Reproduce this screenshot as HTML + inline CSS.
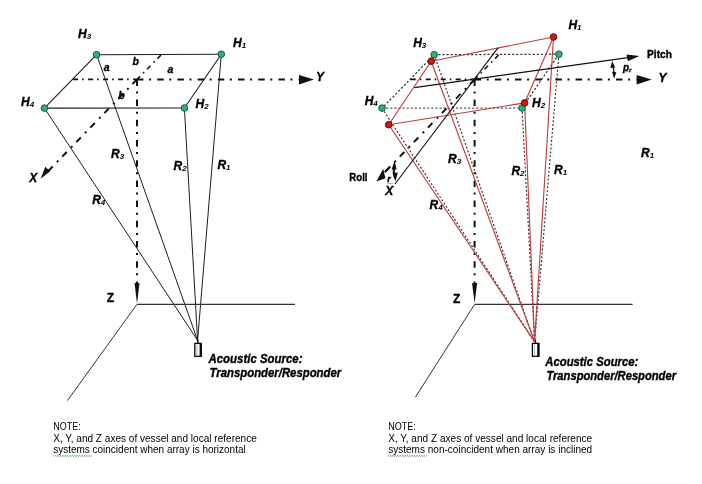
<!DOCTYPE html>
<html><head><meta charset="utf-8"><style>
html,body{margin:0;padding:0;background:#fff;width:702px;height:484px;overflow:hidden}
svg{display:block;will-change:transform}
text{font-family:"Liberation Sans",sans-serif;fill:#000}
.bi,.b{stroke:#000;stroke-width:0.35}
.bi{font-weight:bold;font-style:italic}
.b{font-weight:bold}
.sub{font-weight:bold;stroke-width:0}
.r{font-weight:normal}
</style></head><body>
<svg width="702" height="484" viewBox="0 0 702 484">
<rect width="702" height="484" fill="#fff"/>
<line x1="96.6" y1="54.7" x2="221.3" y2="54.2" stroke="#1e1e1e" stroke-width="1.1" />
<line x1="44.4" y1="108.1" x2="184.4" y2="108.0" stroke="#1e1e1e" stroke-width="1.1" />
<line x1="96.6" y1="54.7" x2="44.4" y2="108.1" stroke="#1e1e1e" stroke-width="1.1" />
<line x1="221.3" y1="54.2" x2="184.4" y2="108.0" stroke="#1e1e1e" stroke-width="1.1" />
<line x1="221.3" y1="54.2" x2="197.6" y2="340.4" stroke="#1e1e1e" stroke-width="1" />
<line x1="184.4" y1="108.0" x2="197.6" y2="340.4" stroke="#1e1e1e" stroke-width="1" />
<line x1="96.6" y1="54.7" x2="197.6" y2="340.4" stroke="#1e1e1e" stroke-width="1" />
<line x1="44.4" y1="108.1" x2="197.6" y2="340.4" stroke="#1e1e1e" stroke-width="1" />
<line x1="73.1" y1="79.4" x2="137.0" y2="79.4" stroke="#111" stroke-width="1.6" stroke-dasharray="5 4 1.6 4.4"/>
<line x1="137.0" y1="79.4" x2="299.0" y2="79.4" stroke="#111" stroke-width="2" stroke-dasharray="6.5 5.6 2 6.1"/>
<polygon points="299.0,75 314.0,79.6 299.0,84.6" fill="#111"/>
<line x1="161.0" y1="55.0" x2="137.0" y2="79.4" stroke="#111" stroke-width="1.6" stroke-dasharray="5 4 1.6 4.4"/>
<line x1="137.0" y1="79.4" x2="48.0" y2="171.3" stroke="#111" stroke-width="2" stroke-dasharray="6.5 5.6 2 6.1"/>
<polygon points="40.7,178.7 45.2,166.7 50.2,171.2" fill="#111"/>
<line x1="137.0" y1="79.4" x2="137.0" y2="284.0" stroke="#111" stroke-width="2" stroke-dasharray="6.5 5.6 2 6.1"/>
<polygon points="134.5,283 139.5,283 137.0,303.4" fill="#111"/>
<line x1="137.0" y1="304.4" x2="295.0" y2="304.4" stroke="#333" stroke-width="1.2" />
<line x1="136.9" y1="304.4" x2="67.4" y2="400.6" stroke="#333" stroke-width="1.0" />
<rect x="194.8" y="343.4" width="6.4" height="12.9" fill="#fff" stroke="#0a0a0a" stroke-width="1.3"/>
<rect x="199.6" y="343" width="2.2" height="13.8" fill="#0a0a0a"/>
<line x1="196.9" y1="345" x2="196.9" y2="355" stroke="#999" stroke-width="0.7"/>
<line x1="197.6" y1="339.5" x2="197.9" y2="343" stroke="#111" stroke-width="1.6"/>
<circle cx="221.3" cy="54.2" r="3.3" fill="#2fae80" stroke="#1b5a3e" stroke-width="1"/>
<circle cx="184.4" cy="108.0" r="3.3" fill="#2fae80" stroke="#1b5a3e" stroke-width="1"/>
<circle cx="96.6" cy="54.7" r="3.3" fill="#2fae80" stroke="#1b5a3e" stroke-width="1"/>
<circle cx="44.4" cy="108.1" r="3.3" fill="#2fae80" stroke="#1b5a3e" stroke-width="1"/>
<line x1="434.2" y1="54.7" x2="558.9" y2="54.2" stroke="#333" stroke-width="1.25" stroke-dasharray="2.2 1.9"/>
<line x1="382.0" y1="108.1" x2="522.0" y2="108.0" stroke="#5a5a5a" stroke-width="1.25" stroke-dasharray="2.2 1.9"/>
<line x1="434.2" y1="54.7" x2="382.0" y2="108.1" stroke="#333" stroke-width="1.25" stroke-dasharray="2.2 1.9"/>
<line x1="558.9" y1="54.2" x2="522.0" y2="108.0" stroke="#333" stroke-width="1.25" stroke-dasharray="2.2 1.9"/>
<line x1="558.9" y1="54.2" x2="534.6" y2="341.9" stroke="#333" stroke-width="1.15" stroke-dasharray="2 1.9"/>
<line x1="522.0" y1="108.0" x2="534.6" y2="341.9" stroke="#333" stroke-width="1.15" stroke-dasharray="2 1.9"/>
<line x1="434.2" y1="54.7" x2="534.6" y2="341.9" stroke="#333" stroke-width="1.15" stroke-dasharray="2 1.9"/>
<line x1="382.0" y1="108.1" x2="534.6" y2="341.9" stroke="#333" stroke-width="1.15" stroke-dasharray="2 1.9"/>
<line x1="410.7" y1="79.4" x2="474.6" y2="79.4" stroke="#111" stroke-width="1.6" stroke-dasharray="5 4 1.6 4.4"/>
<line x1="474.6" y1="79.4" x2="636.6" y2="79.4" stroke="#111" stroke-width="2" stroke-dasharray="6.5 5.6 2 6.1"/>
<polygon points="636.6,75 651.6,79.6 636.6,84.6" fill="#111"/>
<line x1="498.6" y1="55.0" x2="474.6" y2="79.4" stroke="#111" stroke-width="1.6" stroke-dasharray="5 4 1.6 4.4"/>
<line x1="474.6" y1="79.4" x2="385.6" y2="171.3" stroke="#111" stroke-width="2" stroke-dasharray="6.5 5.6 2 6.1"/>
<polygon points="376.3,181.4 383.2,168.8 385.4,178.2" fill="#111"/>
<line x1="384.8" y1="172.4" x2="390" y2="166.6" stroke="#111" stroke-width="2"/>
<line x1="474.6" y1="79.4" x2="474.6" y2="284.0" stroke="#111" stroke-width="2" stroke-dasharray="6.5 5.6 2 6.1"/>
<polygon points="472.1,283 477.1,283 474.6,303.4" fill="#111"/>
<line x1="474.6" y1="304.4" x2="632.6" y2="304.4" stroke="#333" stroke-width="1.2" />
<line x1="474.6" y1="304.4" x2="415.3" y2="397.3" stroke="#333" stroke-width="1.0" />
<rect x="532.4" y="343.4" width="6.4" height="12.9" fill="#fff" stroke="#0a0a0a" stroke-width="1.3"/>
<rect x="537.2" y="343" width="2.2" height="13.8" fill="#0a0a0a"/>
<line x1="534.5" y1="345" x2="534.5" y2="355" stroke="#999" stroke-width="0.7"/>
<line x1="535.2" y1="339.5" x2="535.5" y2="343" stroke="#111" stroke-width="1.6"/>
<line x1="431.2" y1="61.2" x2="553.5" y2="37.0" stroke="#bc4040" stroke-width="1.15" />
<line x1="388.7" y1="124.7" x2="524.6" y2="102.9" stroke="#bc4040" stroke-width="1.15" />
<line x1="431.2" y1="61.2" x2="388.7" y2="124.7" stroke="#bc4040" stroke-width="1.15" />
<line x1="553.5" y1="37.0" x2="524.6" y2="102.9" stroke="#bc4040" stroke-width="1.15" />
<line x1="553.5" y1="37.0" x2="534.6" y2="341.9" stroke="#bc4040" stroke-width="1.15" />
<line x1="524.6" y1="102.9" x2="534.6" y2="341.9" stroke="#bc4040" stroke-width="1.15" />
<line x1="431.2" y1="61.2" x2="534.6" y2="341.9" stroke="#bc4040" stroke-width="1.15" />
<line x1="388.7" y1="124.7" x2="534.6" y2="341.9" stroke="#bc4040" stroke-width="1.15" />
<line x1="414.4" y1="87.6" x2="628.0" y2="57.6" stroke="#111" stroke-width="1.2" />
<polygon points="639.4,56 626.5,54.6 627.8,61.2" fill="#111"/>
<line x1="498.2" y1="47.7" x2="395.0" y2="184.0" stroke="#111" stroke-width="1.1" />
<path d="M612.4,64 Q614.2,70 614,75.5" fill="none" stroke="#111" stroke-width="1.2"/>
<polygon points="612.1,61 610.4,68 615.2,67.4" fill="#111"/>
<polygon points="614.1,78.8 612,71.8 616.4,72.2" fill="#111"/>
<path d="M394.2,165 Q393,171 395,178" fill="none" stroke="#111" stroke-width="2"/>
<polygon points="394.6,160.8 391.6,169.5 396.6,169.5" fill="#111"/>
<polygon points="395.4,181.4 392.4,172.5 397.8,172.8" fill="#111"/>
<circle cx="558.9" cy="54.2" r="3.3" fill="#2fae80" stroke="#1b5a3e" stroke-width="1"/>
<circle cx="522.0" cy="108.0" r="3.3" fill="#2fae80" stroke="#1b5a3e" stroke-width="1"/>
<circle cx="434.2" cy="54.7" r="3.3" fill="#2fae80" stroke="#1b5a3e" stroke-width="1"/>
<circle cx="382.0" cy="108.1" r="3.3" fill="#2fae80" stroke="#1b5a3e" stroke-width="1"/>
<circle cx="553.5" cy="37.0" r="3.3" fill="#d01818" stroke="#6a0808" stroke-width="1"/>
<circle cx="524.6" cy="102.9" r="3.3" fill="#d01818" stroke="#6a0808" stroke-width="1"/>
<circle cx="431.2" cy="61.2" r="3.3" fill="#d01818" stroke="#6a0808" stroke-width="1"/>
<circle cx="388.7" cy="124.7" r="3.3" fill="#d01818" stroke="#6a0808" stroke-width="1"/>
<text x="78.1" y="37.7" class="bi" font-size="12">H<tspan font-size="8" dy="1" dx="0" class="sub">3</tspan></text>
<text x="233.0" y="46.5" class="bi" font-size="12">H<tspan font-size="8" dy="1" dx="0" class="sub">1</tspan></text>
<text x="195.5" y="108.4" class="bi" font-size="12">H<tspan font-size="8" dy="1" dx="0" class="sub">2</tspan></text>
<text x="21.1" y="105.5" class="bi" font-size="12">H<tspan font-size="8" dy="1" dx="0" class="sub">4</tspan></text>
<text x="111.0" y="158.0" class="bi" font-size="12">R<tspan font-size="8" dy="1" dx="0" class="sub">3</tspan></text>
<text x="92.2" y="204.3" class="bi" font-size="12">R<tspan font-size="8" dy="1" dx="0" class="sub">4</tspan></text>
<text x="173.5" y="169.6" class="bi" font-size="12">R<tspan font-size="8" dy="1" dx="0" class="sub">2</tspan></text>
<text x="217.4" y="169.0" class="bi" font-size="12">R<tspan font-size="8" dy="1" dx="0" class="sub">1</tspan></text>
<text x="316.0" y="80.5" class="bi" font-size="12" >Y</text>
<text x="29.3" y="182.4" class="bi" font-size="12" >X</text>
<text x="106.8" y="302.0" class="b" font-size="12" >Z</text>
<text x="103.8" y="71.3" class="bi" font-size="10.5" >a</text>
<text x="132.5" y="65.3" class="bi" font-size="10.5" >b</text>
<text x="167.5" y="72.5" class="bi" font-size="10.5" >a</text>
<text x="118.3" y="99.1" class="bi" font-size="10.5" >b</text>
<text x="208.5" y="363.2" class="bi" font-size="12" textLength="94" lengthAdjust="spacingAndGlyphs" >Acoustic Source:</text>
<text x="209.6" y="376.6" class="bi" font-size="12" textLength="131.6" lengthAdjust="spacingAndGlyphs" >Transponder/Responder</text>
<text x="413.2" y="46.7" class="bi" font-size="12">H<tspan font-size="8" dy="1" dx="0" class="sub">3</tspan></text>
<text x="568.4" y="28.6" class="bi" font-size="12">H<tspan font-size="8" dy="1" dx="0" class="sub">1</tspan></text>
<text x="532.0" y="107.4" class="bi" font-size="12">H<tspan font-size="8" dy="1" dx="0" class="sub">2</tspan></text>
<text x="364.7" y="105.4" class="bi" font-size="12">H<tspan font-size="8" dy="1" dx="0" class="sub">4</tspan></text>
<text x="448.0" y="163.1" class="bi" font-size="12">R<tspan font-size="8" dy="1" dx="0" class="sub">3</tspan></text>
<text x="429.5" y="208.5" class="bi" font-size="12">R<tspan font-size="8" dy="1" dx="0" class="sub">4</tspan></text>
<text x="511.4" y="174.8" class="bi" font-size="12">R<tspan font-size="8" dy="1" dx="0" class="sub">2</tspan></text>
<text x="554.1" y="174.2" class="bi" font-size="12">R<tspan font-size="8" dy="1" dx="0" class="sub">1</tspan></text>
<text x="641.0" y="156.5" class="bi" font-size="12">R<tspan font-size="8" dy="1" dx="0" class="sub">1</tspan></text>
<text x="658.6" y="82.3" class="bi" font-size="12" >Y</text>
<text x="385.2" y="194.5" class="bi" font-size="12" >X</text>
<text x="453.0" y="302.7" class="b" font-size="12" >Z</text>
<text x="647.0" y="58.0" class="b" font-size="11" textLength="25" lengthAdjust="spacingAndGlyphs" >Pitch</text>
<text x="623" y="71.2" class="bi" font-size="10">p<tspan font-size="6" dy="0.5">r</tspan></text>
<path d="M624.5,71 l1,1.2 1,-1.2 1,1.2 1,-1.2 1,1.2 1,-1.2 1,1.2" fill="none" stroke="#3a8a3a" stroke-width="0.6"/>
<text x="387.2" y="182.3" class="bi" font-size="9">r</text>
<path d="M387.5,183 l1,1 1,-1 1,1 1,-1 1,1" fill="none" stroke="#3a8a3a" stroke-width="0.6"/>
<text x="349.3" y="180.9" class="b" font-size="11" textLength="18.2" lengthAdjust="spacingAndGlyphs" >Roll</text>
<text x="545.3" y="365.7" class="bi" font-size="12" textLength="93" lengthAdjust="spacingAndGlyphs" >Acoustic Source:</text>
<text x="546.4" y="379.6" class="bi" font-size="12" textLength="129.6" lengthAdjust="spacingAndGlyphs" >Transponder/Responder</text>
<text x="53.2" y="429.5" class="r" font-size="10" textLength="27.5" lengthAdjust="spacingAndGlyphs" >NOTE:</text>
<path d="M53.2,455.3 l1.2,1.3 1.2,-1.3 l1.2,1.3 1.2,-1.3 l1.2,1.3 1.2,-1.3 l1.2,1.3 1.2,-1.3 l1.2,1.3 1.2,-1.3 l1.2,1.3 1.2,-1.3 l1.2,1.3 1.2,-1.3 l1.2,1.3 1.2,-1.3 l1.2,1.3 1.2,-1.3 l1.2,1.3 1.2,-1.3 l1.2,1.3 1.2,-1.3 l1.2,1.3 1.2,-1.3 l1.2,1.3 1.2,-1.3 l1.2,1.3 1.2,-1.3 l1.2,1.3 1.2,-1.3 l1.2,1.3 1.2,-1.3" fill="none" stroke="#4a9a4a" stroke-width="0.8"/>
<text x="53.2" y="441.5" class="r" font-size="10" textLength="203.6" lengthAdjust="spacingAndGlyphs" >X, Y, and Z axes of vessel and local reference</text>
<text x="53.2" y="453.0" class="r" font-size="10" textLength="192.5" lengthAdjust="spacingAndGlyphs" >systems coincident when array is horizontal</text>
<text x="388.2" y="429.5" class="r" font-size="10" textLength="27.5" lengthAdjust="spacingAndGlyphs" >NOTE:</text>
<path d="M388.2,455.3 l1.2,1.3 1.2,-1.3 l1.2,1.3 1.2,-1.3 l1.2,1.3 1.2,-1.3 l1.2,1.3 1.2,-1.3 l1.2,1.3 1.2,-1.3 l1.2,1.3 1.2,-1.3 l1.2,1.3 1.2,-1.3 l1.2,1.3 1.2,-1.3 l1.2,1.3 1.2,-1.3 l1.2,1.3 1.2,-1.3 l1.2,1.3 1.2,-1.3 l1.2,1.3 1.2,-1.3 l1.2,1.3 1.2,-1.3 l1.2,1.3 1.2,-1.3 l1.2,1.3 1.2,-1.3 l1.2,1.3 1.2,-1.3" fill="none" stroke="#4a9a4a" stroke-width="0.8"/>
<text x="388.2" y="441.5" class="r" font-size="10" textLength="204" lengthAdjust="spacingAndGlyphs" >X, Y, and Z axes of vessel and local reference</text>
<text x="388.2" y="453.0" class="r" font-size="10" textLength="204" lengthAdjust="spacingAndGlyphs" >systems non-coincident when array is inclined</text>
</svg>
</body></html>
